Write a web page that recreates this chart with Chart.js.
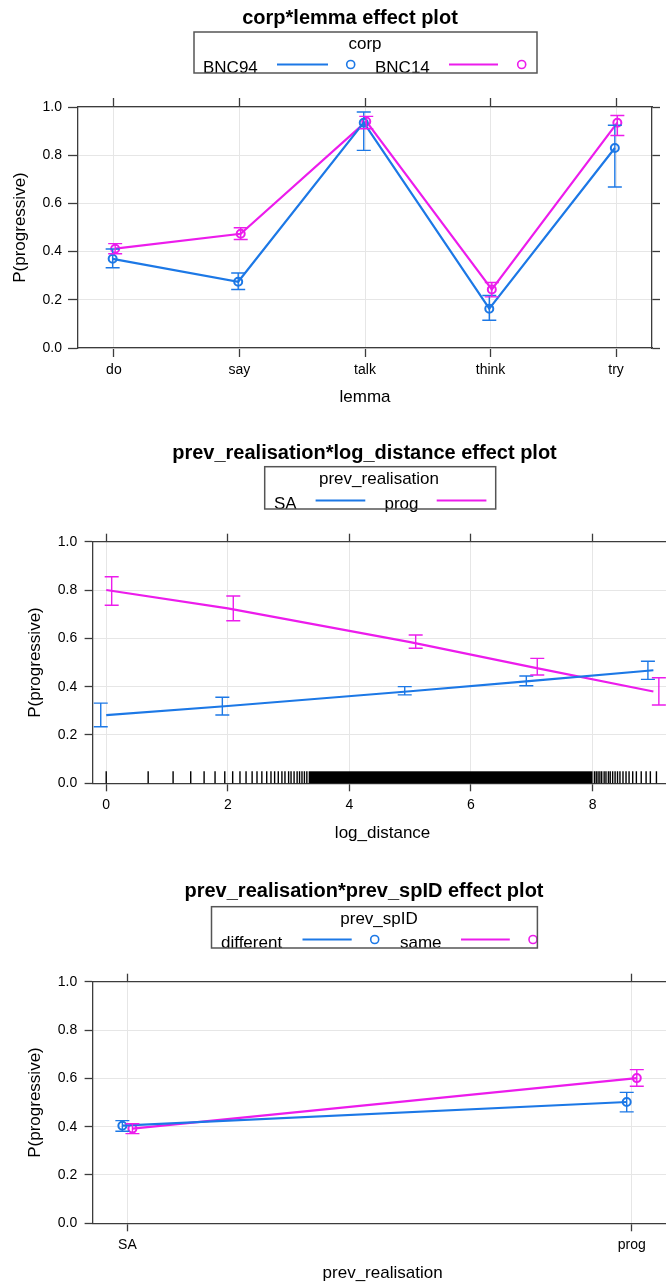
<!DOCTYPE html>
<html>
<head>
<meta charset="utf-8">
<title>effect plots</title>
<script src="https://cdn.jsdelivr.net/npm/chart.js@4.4.1/dist/chart.umd.min.js"></script>
<style>
  html, body { margin: 0; padding: 0; background: #fff; width: 666px; height: 1286px; overflow: hidden; }
  .panel { position: absolute; left: 0; }
</style>
</head>
<body>
<canvas id="lemmaPlot" class="panel" style="top:0" width="666" height="410"></canvas>
<canvas id="distancePlot" class="panel" style="top:430px" width="690" height="420"></canvas>
<canvas id="speakerPlot" class="panel" style="top:860px" width="690" height="426"></canvas>
<script>
// corp*lemma
const lemmas = ['do', 'say', 'talk', 'think', 'try'];
const corpLevels = ['BNC94', 'BNC14'];
const bnc94Fit = [0.37, 0.275, 0.935, 0.163, 0.83];
const bnc94Lower = [0.333, 0.243, 0.82, 0.115, 0.668];
const bnc94Upper = [0.411, 0.311, 0.979, 0.218, 0.924];
const bnc14Fit = [0.412, 0.474, 0.94, 0.243, 0.935];
const bnc14Lower = [0.391, 0.45, 0.91, 0.212, 0.882];
const bnc14Upper = [0.433, 0.499, 0.961, 0.272, 0.965];

// prev_realisation*log_distance
const realisationLevels = ['SA', 'prog'];
const logDistance = [0, 2, 5, 7, 9];
const distanceTicks = [0, 2, 4, 6, 8];
const saFit = [0.282, 0.32, 0.381, 0.424, 0.468];
const saLower = [0.234, 0.283, 0.366, 0.404, 0.43];
const saUpper = [0.332, 0.356, 0.40, 0.444, 0.505];
const progFit = [0.80, 0.724, 0.584, 0.481, 0.38];
const progLower = [0.737, 0.673, 0.559, 0.448, 0.324];
const progUpper = [0.855, 0.775, 0.614, 0.517, 0.437];
// observed log distances along the bottom; the middle stretch is solid
const rugTicks = [0, 0.69, 1.10, 1.39, 1.61, 1.79, 1.95, 2.08, 2.20, 2.30, 2.40, 2.48,
  2.56, 2.64, 2.71, 2.77, 2.83, 2.89, 2.94, 3.00, 3.04, 3.09, 3.14, 3.18, 3.22, 3.26, 3.30,
  8.03, 8.06, 8.09, 8.12, 8.15, 8.19, 8.22, 8.26, 8.29, 8.33, 8.37, 8.41, 8.45, 8.50,
  8.55, 8.60, 8.66, 8.72, 8.80, 8.88, 8.95, 9.05];
const rugBand = [3.33, 8.0];

// prev_realisation*prev_spID
const spidLevels = ['different', 'same'];
const differentFit = [0.404, 0.502];
const differentLower = [0.381, 0.461];
const differentUpper = [0.425, 0.542];
const sameFit = [0.392, 0.601];
const sameLower = [0.371, 0.567];
const sameUpper = [0.412, 0.636];

const probTicks = [0, 0.2, 0.4, 0.6, 0.8, 1.0];

const BLUE = '#1c78e6';
const MAGENTA = '#ec1cec';
const FRAME = '#3c3c3c';
const GRID = '#e6e6e6';
const FONT = '"Liberation Sans", Arial, Helvetica, sans-serif';

Chart.defaults.font.family = FONT;
Chart.defaults.color = '#000';

// vertical interval with caps, taken from dataset.errorBars
const errorBarPlugin = {
  id: 'errorBars',
  afterDatasetsDraw(chart) {
    const { ctx, scales: { x, y } } = chart;
    chart.data.datasets.forEach(ds => {
      const eb = ds.errorBars;
      if (!eb) return;
      ctx.save();
      ctx.strokeStyle = ds.borderColor;
      ctx.lineWidth = 1.4;
      eb.x.forEach((xv, i) => {
        const px = x.getPixelForValue(xv);
        const lo = y.getPixelForValue(eb.lower[i]);
        const hi = y.getPixelForValue(eb.upper[i]);
        ctx.beginPath();
        ctx.moveTo(px, lo); ctx.lineTo(px, hi);
        ctx.moveTo(px - 7, lo); ctx.lineTo(px + 7, lo);
        ctx.moveTo(px - 7, hi); ctx.lineTo(px + 7, hi);
        ctx.stroke();
      });
      ctx.restore();
    });
  }
};

const rugPlugin = {
  id: 'rug',
  afterDatasetsDraw(chart, args, opts) {
    if (!opts.ticks) return;
    const { ctx, scales: { x, y } } = chart;
    const base = y.getPixelForValue(0);
    ctx.save();
    ctx.strokeStyle = '#000';
    ctx.fillStyle = '#000';
    ctx.lineWidth = 1.4;
    ctx.beginPath();
    opts.ticks.forEach(v => {
      const px = x.getPixelForValue(v);
      ctx.moveTo(px, base);
      ctx.lineTo(px, base - 12);
    });
    ctx.stroke();
    if (opts.band) {
      const a = x.getPixelForValue(opts.band[0]);
      const b = x.getPixelForValue(opts.band[1]);
      ctx.fillRect(a, base - 12, b - a, 12);
    }
    ctx.restore();
  }
};

// lattice style title and key box above the panel
const keyPlugin = {
  id: 'key',
  afterDraw(chart, args, o) {
    if (!o.title) return;
    const ctx = chart.ctx;
    const [bx, by, bw, bh] = o.box;
    ctx.save();
    ctx.fillStyle = '#000';
    ctx.textAlign = 'center';
    ctx.textBaseline = 'alphabetic';
    ctx.font = 'bold 20px ' + FONT;
    ctx.fillText(o.title, o.titleX, o.titleY);
    ctx.font = '17px ' + FONT;
    ctx.fillText(o.header, o.headerX, by + 17);
    ctx.textAlign = 'left';
    o.entries.forEach((e, i) => {
      const ds = chart.data.datasets[i];
      const row = by + bh - 8.5;
      ctx.fillStyle = '#000';
      ctx.fillText(ds.label, e.text, by + bh);
      ctx.strokeStyle = ds.borderColor;
      ctx.lineWidth = 2.2;
      ctx.beginPath();
      ctx.moveTo(e.line[0], row);
      ctx.lineTo(e.line[1], row);
      ctx.stroke();
      if (e.point) {
        ctx.lineWidth = 1.6;
        ctx.beginPath();
        ctx.arc(e.point, row, 4, 0, Math.PI * 2);
        ctx.stroke();
      }
    });
    ctx.strokeStyle = '#555';
    ctx.lineWidth = 1.5;
    ctx.strokeRect(bx, by, bw, bh);
    ctx.restore();
  }
};

function makeScales(o) {
  const xTicks = scale => { scale.ticks = o.xTicks.map(v => ({ value: v })); };
  const yTicks = scale => { scale.ticks = probTicks.map(v => ({ value: v })); };
  const edge = { display: true, color: FRAME, width: 1.3 };
  return {
    x: {
      type: 'linear', position: 'bottom', min: o.xMin, max: o.xMax,
      afterBuildTicks: xTicks,
      afterFit: s => { s.height = o.bottomHeight; },
      grid: { color: GRID, tickColor: FRAME, tickLength: o.xTickLen, tickWidth: 1.3 },
      border: edge,
      ticks: { font: { size: 14 }, padding: o.xTickPad, maxRotation: 0, autoSkip: false, callback: o.xLabel },
      title: { display: true, text: o.xTitle, font: { size: 17 }, padding: { top: 0, bottom: o.xTitlePad } }
    },
    xTop: {
      type: 'linear', position: 'top', min: o.xMin, max: o.xMax,
      afterBuildTicks: xTicks,
      afterFit: s => { s.height = 10; },
      grid: { drawOnChartArea: false, tickColor: FRAME, tickLength: o.xTickLen, tickWidth: 1.3 },
      border: edge,
      ticks: { display: false }
    },
    y: {
      type: 'linear', position: 'left', min: 0, max: 1,
      afterBuildTicks: yTicks,
      afterFit: s => { s.width = o.leftWidth; },
      grid: { color: GRID, tickColor: FRAME, tickLength: o.yTickLen, tickWidth: 1.3 },
      border: edge,
      ticks: { font: { size: 14 }, padding: o.yTickPad, callback: v => v.toFixed(1) },
      title: { display: true, text: 'P(progressive)', font: { size: 17 }, padding: { top: o.yTitlePad, bottom: 0 } }
    },
    yRight: {
      type: 'linear', position: 'right', min: 0, max: 1,
      afterBuildTicks: yTicks,
      afterFit: s => { s.width = o.rightWidth; },
      grid: { drawOnChartArea: false, tickColor: FRAME, tickLength: 8, tickWidth: 1.3 },
      border: edge,
      ticks: { display: false }
    }
  };
}

// shift nudges the two groups apart so their intervals don't overlap
function series(label, color, xs, ys, shift, lower, upper, withPoints) {
  return {
    label: label,
    data: xs.map((x, i) => ({ x: x + shift, y: ys[i] })),
    borderColor: color,
    borderWidth: 2.2,
    tension: 0,
    fill: false,
    pointRadius: withPoints ? 4 : 0,
    pointBorderWidth: 2,
    pointBorderColor: color,
    pointBackgroundColor: 'rgba(0,0,0,0)',
    errorBars: { x: xs.map(x => x + shift), lower: lower, upper: upper }
  };
}

function baseOptions(top, scales, plugins) {
  return {
    responsive: false,
    animation: false,
    events: [],
    devicePixelRatio: 1,
    layout: { padding: { top: top, left: 0, right: 0, bottom: 0 } },
    scales: scales,
    plugins: Object.assign({ legend: { display: false }, tooltip: { enabled: false } }, plugins)
  };
}

const plugins = [errorBarPlugin, rugPlugin, keyPlugin];

// corp*lemma panel
const lemmaX = lemmas.map((_, i) => i + 1);
new Chart(document.getElementById('lemmaPlot'), {
  type: 'line',
  data: {
    datasets: [
      series(corpLevels[0], BLUE, lemmaX, bnc94Fit, -0.01, bnc94Lower, bnc94Upper, true),
      series(corpLevels[1], MAGENTA, lemmaX, bnc14Fit, 0.01, bnc14Lower, bnc14Upper, true)
    ]
  },
  options: baseOptions(97, makeScales({
    xMin: 0.714, xMax: 5.286, xTicks: lemmaX, xLabel: v => lemmas[Math.round(v) - 1], xTitle: 'lemma',
    bottomHeight: 62, xTickLen: 9, xTickPad: 4.6, xTitlePad: 2.8,
    leftWidth: 78, yTickLen: 10, yTickPad: 6, yTitlePad: 9.8, rightWidth: 14
  }), {
    key: {
      title: 'corp*lemma effect plot', titleX: 350, titleY: 24,
      box: [194, 32, 343, 41], header: 'corp', headerX: 365,
      entries: [{ text: 203, line: [277, 328], point: 350.7 }, { text: 375, line: [449, 498], point: 521.7 }]
    }
  }),
  plugins: plugins
});

// prev_realisation*log_distance panel: fitted lines, intervals set off either side
const saLine = series(realisationLevels[0], BLUE, logDistance, saFit, 0, saLower, saUpper, false);
saLine.errorBars.x = logDistance.map(v => v - 0.09);
const progLine = series(realisationLevels[1], MAGENTA, logDistance, progFit, 0, progLower, progUpper, false);
progLine.errorBars.x = logDistance.map(v => v + 0.09);
new Chart(document.getElementById('distancePlot'), {
  type: 'line',
  data: { datasets: [saLine, progLine] },
  options: baseOptions(101.7, makeScales({
    xMin: -0.224, xMax: 9.316, xTicks: distanceTicks, xLabel: v => String(v), xTitle: 'log_distance',
    bottomHeight: 66.7, xTickLen: 8, xTickPad: 5.3, xTitlePad: 6.8,
    leftWidth: 92.6, yTickLen: 8, yTickPad: 7.3, yTitlePad: 24.8, rightWidth: 17.4
  }), {
    rug: { ticks: rugTicks, band: rugBand },
    key: {
      title: 'prev_realisation*log_distance effect plot', titleX: 364.5, titleY: 29,
      box: [264.7, 36.7, 231, 42.3], header: 'prev_realisation', headerX: 379,
      entries: [{ text: 274, line: [315.6, 365.3] }, { text: 384.5, line: [436.7, 486.4] }]
    }
  }),
  plugins: plugins
});

// prev_realisation*prev_spID panel
const realisationX = realisationLevels.map((_, i) => i + 1);
new Chart(document.getElementById('speakerPlot'), {
  type: 'line',
  data: {
    datasets: [
      series(spidLevels[0], BLUE, realisationX, differentFit, -0.01, differentLower, differentUpper, true),
      series(spidLevels[1], MAGENTA, realisationX, sameFit, 0.01, sameLower, sameUpper, true)
    ]
  },
  options: baseOptions(111.7, makeScales({
    xMin: 0.931, xMax: 2.081, xTicks: realisationX, xLabel: v => realisationLevels[Math.round(v) - 1], xTitle: 'prev_realisation',
    bottomHeight: 62.7, xTickLen: 8, xTickPad: 5.3, xTitlePad: 2.8,
    leftWidth: 92.6, yTickLen: 8, yTickPad: 7.3, yTitlePad: 24.8, rightWidth: 17.4
  }), {
    key: {
      title: 'prev_realisation*prev_spID effect plot', titleX: 364, titleY: 37,
      box: [211.5, 46.7, 325.9, 41.3], header: 'prev_spID', headerX: 379,
      entries: [{ text: 221, line: [302.5, 351.7], point: 374.7 }, { text: 400, line: [461, 509.8], point: 533 }]
    }
  }),
  plugins: plugins
});
</script>
</body>
</html>
